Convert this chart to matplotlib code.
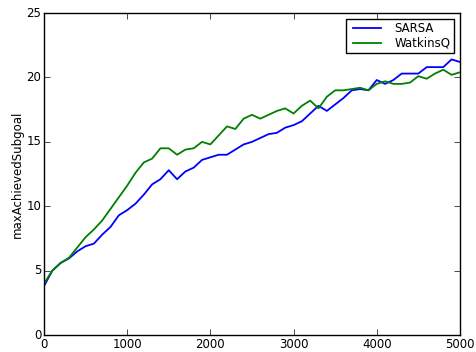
import numpy as np
import matplotlib
matplotlib.use('Agg')
import matplotlib.pyplot as plt

plt.style.use('classic')

# episodes sampled every 100 steps
episodes = list(range(0, 5001, 100))

sarsa = [3.8, 5.0, 5.6, 5.95, 6.5, 6.9, 7.1, 7.8, 8.4, 9.3,
         9.7, 10.2, 10.9, 11.7, 12.1, 12.8, 12.1, 12.7, 13.0, 13.6,
         13.8, 14.0, 14.0, 14.4, 14.8, 15.0, 15.3, 15.6, 15.7, 16.1,
         16.3, 16.6, 17.2, 17.8, 17.4, 17.9, 18.4, 19.0, 19.1, 19.0,
         19.8, 19.5, 19.8, 20.3, 20.3, 20.3, 20.8, 20.8, 20.8, 21.4,
         21.2]

watkins = [4.0, 5.0, 5.6, 6.0, 6.8, 7.6, 8.2, 8.9, 9.8, 10.7,
           11.6, 12.6, 13.4, 13.7, 14.5, 14.5, 14.0, 14.4, 14.5, 15.0,
           14.8, 15.5, 16.2, 16.0, 16.8, 17.1, 16.8, 17.1, 17.4, 17.6,
           17.2, 17.8, 18.2, 17.6, 18.5, 19.0, 19.0, 19.1, 19.2, 19.0,
           19.5, 19.7, 19.5, 19.5, 19.6, 20.1, 19.9, 20.3, 20.6, 20.2,
           20.4]

fig = plt.figure(figsize=(4.77, 3.52), dpi=100, facecolor='white')
ax = fig.add_axes([0.0922, 0.048, 0.872, 0.915])

ax.plot(episodes, sarsa, color='b', linewidth=1.3, label='SARSA')
ax.plot(episodes, watkins, color='g', linewidth=1.3, label='WatkinsQ')

ax.set_xlim(0, 5000)
ax.set_ylim(0, 25)
ax.set_xticks([0, 1000, 2000, 3000, 4000, 5000])
ax.set_yticks([0, 5, 10, 15, 20, 25])
ax.tick_params(labelsize=8.5, pad=2)
ax.set_ylabel('maxAchievedSubgoal', fontsize=8.5, labelpad=2)

ax.legend(loc='upper right', fontsize=8.5, handlelength=3, borderpad=0.3,
          labelspacing=0.1)

fig.savefig('out.png', dpi=100, facecolor='white')
